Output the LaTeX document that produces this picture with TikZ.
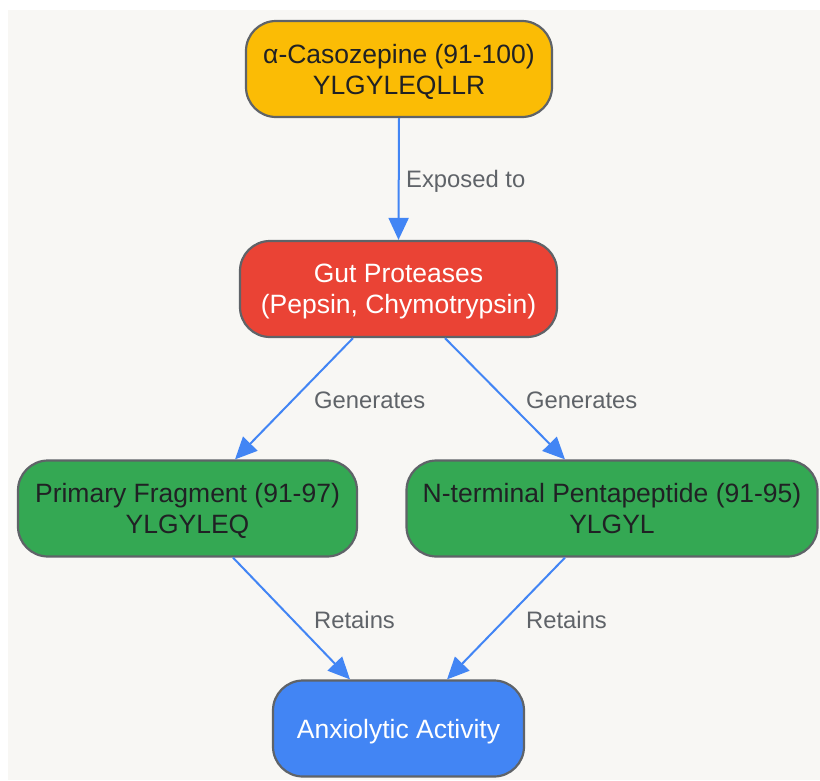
\documentclass[tikz,border=0pt]{standalone}
\usepackage{fontspec}
\setmainfont{Liberation Sans}
\usetikzlibrary{arrows.meta}
\definecolor{bgc}{HTML}{F8F7F4}
\definecolor{ylw}{HTML}{FBBC05}
\definecolor{rd}{HTML}{EA4335}
\definecolor{grn}{HTML}{34A853}
\definecolor{blu}{HTML}{4285F4}
\definecolor{strk}{HTML}{5F6368}
\definecolor{txtd}{HTML}{202124}
\definecolor{lblc}{HTML}{5F6368}
\tikzset{
  box/.style={draw=strk, line width=2.2pt, rounded corners=30pt, inner sep=0pt,
    align=center, minimum height=96pt, text depth=0pt, font=\fontsize{26.5}{31}\selectfont},
  dk/.style={text=txtd},
  lt/.style={text=white},
  conn/.style={draw=blu, line width=2pt, -{Triangle[length=22pt,width=20pt]}},
  lbl/.style={text=lblc, font=\fontsize{23.8}{27}\selectfont, inner sep=0pt, anchor=west}
}
\begin{document}
\begin{tikzpicture}[x=1pt,y=-1pt]
\useasboundingbox (0,0) rectangle (820,780);
\fill[bgc] (8,10) rectangle (820,780);
\node[box, dk, fill=ylw, minimum width=306pt] (cas) at (399,69) {α-Casozepine (91-100)\\YLGYLEQLLR};
\node[box, lt, fill=rd, minimum width=317pt] (gut) at (398.5,289) {Gut Proteases\\(Pepsin, Chymotrypsin)};
\node[box, dk, fill=grn, minimum width=339pt] (prim) at (187.5,508.5) {Primary Fragment (91-97)\\YLGYLEQ};
\node[box, dk, fill=grn, minimum width=411pt] (pent) at (612,508.5) {N-terminal Pentapeptide (91-95)\\YLGYL};
\node[box, lt, fill=blu, minimum width=251pt] (anx) at (398.5,728.5) {Anxiolytic Activity};

\draw[conn] (cas.south) -- (gut.north);
\draw[conn] ([xshift=-45.5pt]gut.south) -- ([xshift=47.5pt]prim.north);
\draw[conn] ([xshift=46.5pt]gut.south) -- ([xshift=-47pt]pent.north);
\draw[conn] ([xshift=45.5pt]prim.south) -- ([xshift=-48.5pt]anx.north);
\draw[conn] ([xshift=-47pt]pent.south) -- ([xshift=48.5pt]anx.north);

\node[lbl] (l1) at (406,181) {Exposed to};
\node[lbl] (l2) at (314,400) {Generates};
\node[lbl] (l3) at (526,400) {Generates};
\node[lbl] (l4) at (314,620) {Retains};
\node[lbl] (l5) at (526,620) {Retains};
\end{tikzpicture}
\end{document}
